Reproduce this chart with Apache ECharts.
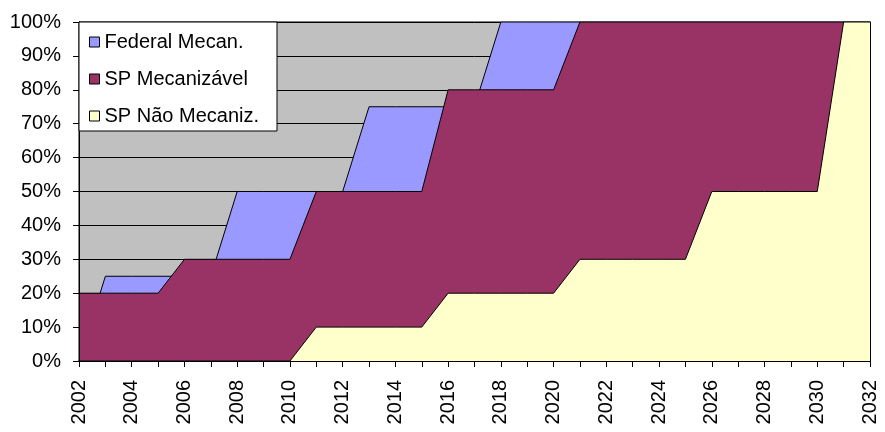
<!DOCTYPE html>
<html>
<head>
<meta charset="utf-8">
<script src="https://cdn.jsdelivr.net/npm/echarts@6/dist/echarts.min.js"></script>
<style>
html,body{margin:0;padding:0;background:#fff;}
#chart{width:885px;height:432px;}
</style>
</head>
<body>
<div id="chart"></div>
<script>
const years = ['2002','2003','2004','2005','2006','2007','2008','2009','2010','2011','2012','2013','2014','2015','2016','2017','2018','2019','2020','2021','2022','2023','2024','2025','2026','2027','2028','2029','2030','2031','2032'];
const federalMecan = [0,25,25,25,25,25,50,50,50,50,50,75,75,75,75,75,100,100,100,100,100,100,100,100,100,100,100,100,100,100,100];
const spMecanizavel = [20,20,20,20,30,30,30,30,30,50,50,50,50,50,80,80,80,80,80,100,100,100,100,100,100,100,100,100,100,100,100];
const spNaoMecaniz = [0,0,0,0,0,0,0,0,0,10,10,10,10,10,20,20,20,20,20,30,30,30,30,30,50,50,50,50,50,100,100];
const seriesNames = ['Federal Mecan.','SP Mecanizável','SP Não Mecaniz.'];
const seriesColors = ['#9999FF','#993366','#FFFFCC'];

const FONT = '"Liberation Sans", Arial, sans-serif';
const chart = echarts.init(document.getElementById('chart'), null, {renderer:'canvas'});

function areaSeries(name, data, color, z) {
  return {
    name: name,
    type: 'line',
    data: data,
    z: z,
    showSymbol: false,
    symbol: 'none',
    animation: false,
    lineStyle: {color: '#000', width: 1},
    itemStyle: {color: color, borderColor: '#000', borderWidth: 1},
    areaStyle: {color: color, opacity: 1}
  };
}

chart.setOption({
  animation: false,
  textStyle: {fontFamily: FONT},
  grid: {left: 79, right: 15, top: 22, bottom: 71, show: true, backgroundColor: '#C0C0C0', borderColor: '#000', borderWidth: 1},
  legend: {
    data: seriesNames,
    orient: 'vertical',
    left: 79,
    top: 22,
    z: 20,
    icon: 'rect',
    itemWidth: 10,
    itemHeight: 10,
    itemGap: 17,
    padding: [10, 18, 5, 10],
    backgroundColor: '#fff',
    borderColor: '#000',
    borderWidth: 1,
    borderRadius: 0,
    itemStyle: {borderColor: '#000', borderWidth: 1},
    textStyle: {fontFamily: FONT, fontSize: 20, color: '#000', lineHeight: 20}
  },
  xAxis: {
    type: 'category',
    data: years,
    boundaryGap: false,
    z: 10,
    axisLine: {show: true, lineStyle: {color: '#000', width: 1}},
    axisTick: {show: true, interval: 0, length: 6, lineStyle: {color: '#000'}},
    axisLabel: {interval: 1, rotate: 90, margin: 19, fontFamily: FONT, fontSize: 20, color: '#000'},
    splitLine: {show: false}
  },
  yAxis: [
    {
      type: 'value', min: 0, max: 100, interval: 10,
      axisLine: {show: true, lineStyle: {color: '#000'}},
      axisTick: {show: true, length: 6, lineStyle: {color: '#000'}},
      axisLabel: {formatter: '{value}%', margin: 18, fontFamily: FONT, fontSize: 20, color: '#000'},
      splitLine: {show: true, lineStyle: {color: '#000', width: 1}}
    },
    {
      type: 'value', min: 0, max: 100, interval: 10, position: 'left', z: 10,
      axisLine: {show: true, onZero: false, lineStyle: {color: '#000'}},
      axisTick: {show: false}, axisLabel: {show: false}, splitLine: {show: false}
    },
    {
      type: 'value', min: 0, max: 100, interval: 10, position: 'right', z: 10,
      axisLine: {show: true, onZero: false, lineStyle: {color: '#000'}},
      axisTick: {show: false}, axisLabel: {show: false}, splitLine: {show: false}
    }
  ],
  series: [
    areaSeries(seriesNames[0], federalMecan, seriesColors[0], 2),
    areaSeries(seriesNames[1], spMecanizavel, seriesColors[1], 3),
    areaSeries(seriesNames[2], spNaoMecaniz, seriesColors[2], 4)
  ]
});
</script>
</body>
</html>
